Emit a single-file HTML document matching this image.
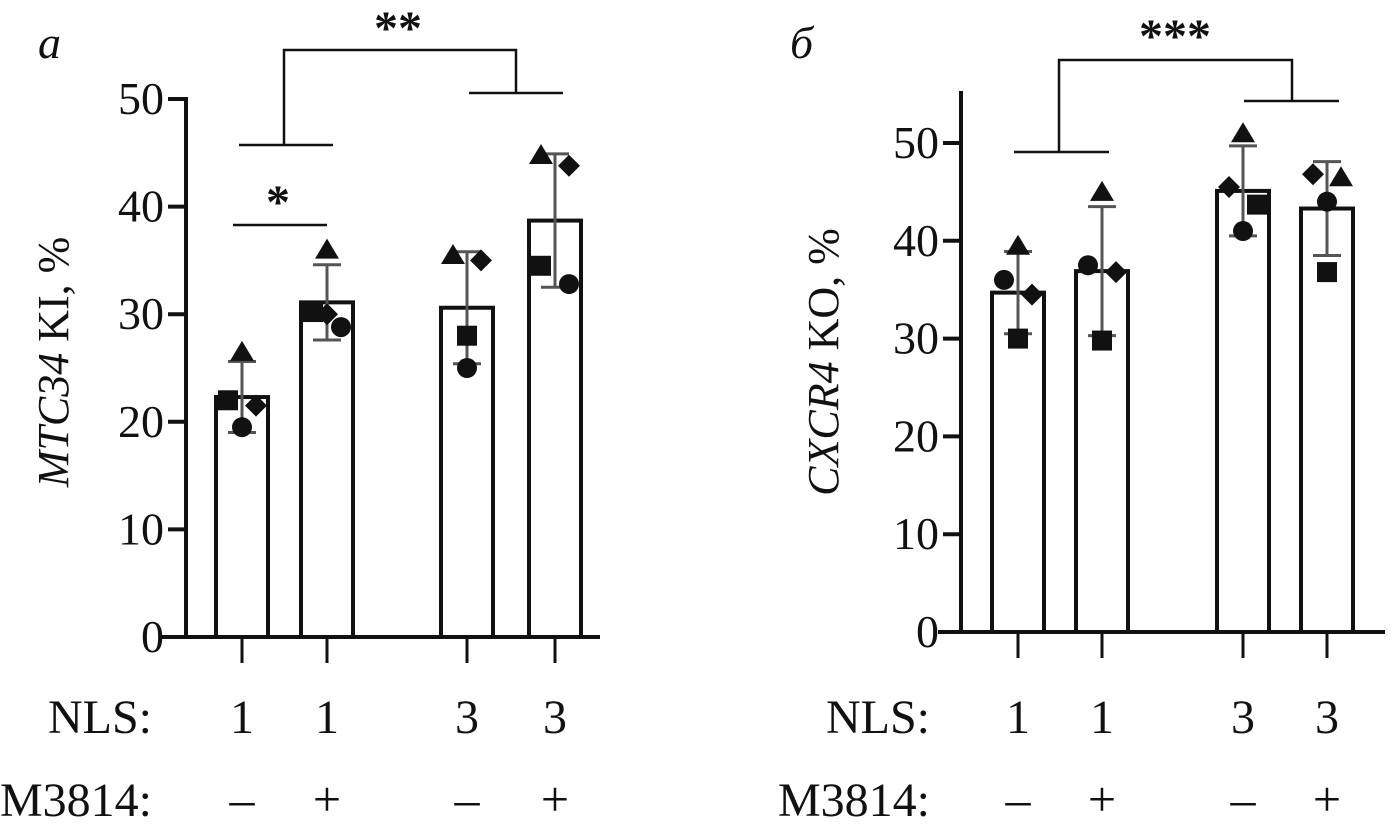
<!DOCTYPE html>
<html><head><meta charset="utf-8"><style>
html,body{margin:0;padding:0;background:#fff;}
svg{display:block;}
svg text{font-family:"Liberation Serif","Times New Roman",serif;}
</style></head><body>
<svg id="fig" width="1396" height="827" viewBox="0 0 1396 827"></svg>
<script>
// ---- Panel A data ----
const aTicks = [0,10,20,30,40,50];
const aMeans = [22.3,31.1,30.6,38.7];
const aSD = [3.3,3.5,5.2,6.2];
const aTri = [26.5,36,35.5,44.8];
const aSq = [22,30.2,28,34.5];
const aCirc = [19.5,28.8,25,32.8];
const aDia = [21.5,30,35,43.8];
// ---- Panel B data ----
const bTicks = [0,10,20,30,40,50];
const bMeans = [34.7,36.9,45.1,43.3];
const bSD = [4.2,6.6,4.6,4.8];
const bTri = [39.5,45,51,46.5];
const bSq = [30,29.8,43.7,36.8];
const bCirc = [36,37.5,41,44];
const bDia = [34.5,36.8,45.5,46.8];
const nlsLabels = ["1","1","3","3"];
const m3814Labels = ["–","+","–","+"];

const NS="http://www.w3.org/2000/svg";
const svg=document.getElementById('fig');
const SERIF='Liberation Serif, Times New Roman, serif';
function mk(tag,attrs,parent){const e=document.createElementNS(NS,tag);for(const k in attrs)e.setAttribute(k,attrs[k]);if(tag==='text'&&!attrs['font-family'])e.setAttribute('font-family',SERIF);(parent||svg).appendChild(e);return e;}

function panel(cfg){
  const g=mk('g',{});
  
  
  const y=v=>cfg.y0-(v-0)*(cfg.y0-cfg.y50)/50;
  const ax=mk('line',{x1:cfg.ax,y1:cfg.axTop,x2:cfg.ax,y2:cfg.y0+2,stroke:'#111','stroke-width':4},g);
  
  
  const xa=mk('line',{x1:cfg.xStart,y1:cfg.y0,x2:cfg.xEnd,y2:cfg.y0,stroke:'#111','stroke-width':4},g);
  
  
  cfg.ticks.forEach(t=>{
    mk('line',{x1:cfg.ax-18,y1:y(t),x2:cfg.ax,y2:y(t),stroke:'#111','stroke-width':4},g);
    const tx=mk('text',{x:cfg.ax-22,y:y(t)+15,'text-anchor':'end','font-size':46,fill:'#111'},g);
    tx.textContent=t;
    
    
  });
  const bw=52;
  cfg.means.forEach((m,i)=>{
    const cx=cfg.cx[i];
    const r=mk('rect',{x:cx-bw/2,y:y(m),width:bw,height:cfg.y0-y(m),fill:'#fff',stroke:'#111','stroke-width':4},g);
    
    
    mk('line',{x1:cx,y1:cfg.y0,x2:cx,y2:cfg.y0+26,stroke:'#111','stroke-width':3},g);
    const hi=y(m+cfg.sd[i]),lo=y(m-cfg.sd[i]);
    const eb=mk('path',{d:`M${cx},${hi}V${lo}M${cx-14},${hi}H${cx+14}M${cx-14},${lo}H${cx+14}`,stroke:'#555','stroke-width':3,fill:'none'},g);
    
    
    const tv=y(cfg.tri[i]);
    const t=mk('polygon',{points:`${cx+cfg.off.tri[i]},${tv-11} ${cx+cfg.off.tri[i]-12},${tv+9} ${cx+cfg.off.tri[i]+12},${tv+9}`,fill:'#111'},g);
    
    
    const sv=y(cfg.sq[i]);
    const s=mk('rect',{x:cx+cfg.off.sq[i]-10,y:sv-10,width:20,height:20,fill:'#111'},g);
    
    
    const c=mk('circle',{cx:cx+cfg.off.circ[i],cy:y(cfg.circ[i]),r:10,fill:'#111'},g);
    
    
    const dv=y(cfg.dia[i]),dx=cx+cfg.off.dia[i];
    const d=mk('polygon',{points:`${dx},${dv-11} ${dx+11},${dv} ${dx},${dv+11} ${dx-11},${dv}`,fill:'#111'},g);
    
    
    const n=mk('text',{x:cx,y:733,'text-anchor':'middle','font-size':48,fill:'#111'},g);
    n.textContent=nlsLabels[i];
    
    
    const p=mk('text',{x:cx,y:816,'text-anchor':'middle','font-size':50,fill:'#111'},g);
    p.textContent=m3814Labels[i];
    
    
  });
  const nl=mk('text',{x:cfg.rowLabelX,y:733,'text-anchor':'end','font-size':48,fill:'#111'},g);
  nl.textContent='NLS:';
  
  
  const ml=mk('text',{x:cfg.rowLabelX,y:816,'text-anchor':'end','font-size':48,fill:'#111'},g);
  ml.textContent='M3814:';
  
  
  cfg.brackets.forEach(b=>{
    const l=mk('path',{d:b.d,stroke:'#111','stroke-width':2.5,fill:'none'},g);
    
    
  });
  cfg.stars.forEach(s=>{
    const st=mk('text',{x:s.x,y:s.y,'text-anchor':'middle','font-size':48,'font-family':'Liberation Sans, sans-serif','font-weight':'bold',fill:'#111'},g);
    st.textContent=s.t;
    
    
  });
  const tt=mk('text',{transform:`translate(${cfg.titleX},${cfg.titleY}) rotate(-90)`,'text-anchor':'middle','font-size':44,fill:'#111'},g);
  
  
  const it=mk('tspan',{'font-style':'italic'},tt);it.textContent=cfg.titleI;
  const rt=mk('tspan',{},tt);rt.textContent=cfg.titleR;
  const pl=mk('text',{x:cfg.letterX,y:58,'font-size':46,'font-style':'italic',fill:'#111'},g);
  pl.textContent=cfg.letter;
  
  
}

panel({name:'panel-a',ax:186,axTop:97,y0:637,y50:99,xStart:160,xEnd:600,ticks:aTicks,
  means:aMeans,sd:aSD,tri:aTri,sq:aSq,circ:aCirc,dia:aDia,cx:[242,327,467,555],
  off:{tri:[0,0,-14,-14],sq:[-14,-14,0,-14],circ:[0,14,0,14],dia:[14,0,14,14]},
  rowLabelX:152,titleX:68,titleY:362,titleI:'MTC34',titleR:' KI, %',letter:'a',letterX:38,
  brackets:[{d:'M233,225H327'},{d:'M239,145H333M284,145V50H516V93M469,93H563'}],
  stars:[{x:278,y:218,t:'*'},{x:398,y:44,t:'**'}]});

panel({name:'panel-b',ax:961,axTop:91,y0:632,y50:143,xStart:938,xEnd:1385,ticks:bTicks,
  means:bMeans,sd:bSD,tri:bTri,sq:bSq,circ:bCirc,dia:bDia,cx:[1018,1102,1243,1327],
  off:{tri:[0,0,0,14],sq:[0,0,14,0],circ:[-14,-14,0,0],dia:[14,14,-14,-14]},
  rowLabelX:930,titleX:838,titleY:362,titleI:'CXCR4',titleR:' KO, %',letter:'б',letterX:790,
  brackets:[{d:'M1014,152H1109M1059,152V60H1292V101M1244,101H1339'}],
  stars:[{x:1175,y:52,t:'***'}]});
</script>
</body></html>
